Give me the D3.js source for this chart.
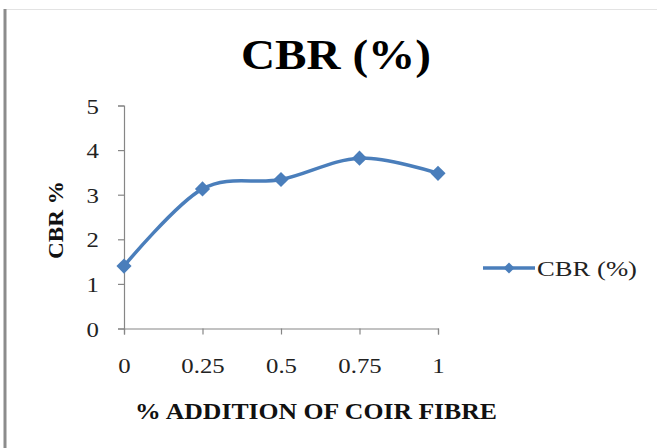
<!DOCTYPE html>
<html><head><meta charset="utf-8">
<script src="https://cdn.jsdelivr.net/npm/d3@7"></script>
<style>html,body{margin:0;padding:0;background:#fff;}svg{display:block;}</style>
</head><body>
<script>
const categories = [0, 0.25, 0.5, 0.75, 1];
const tickLabels = ["0", "0.25", "0.5", "0.75", "1"];
const cbrValues = [1.4, 3.13, 3.34, 3.82, 3.48];
const yTicks = [0, 1, 2, 3, 4, 5];
const seriesName = "CBR (%)";

const W = 657, H = 448;
const svg = d3.select("body").append("svg").attr("width", W).attr("height", H);
svg.append("rect").attr("width", W).attr("height", H).attr("fill", "#fff");

// frame lines
svg.append("line").attr("x1", 5).attr("x2", W).attr("y1", 9.5).attr("y2", 9.5)
  .attr("stroke", "#e3e3e3").attr("stroke-width", 1);
svg.append("line").attr("x1", 5).attr("x2", 5).attr("y1", 9).attr("y2", H)
  .attr("stroke", "#8c8c8c").attr("stroke-width", 3);

const x = d3.scaleLinear().domain([0, 1]).range([124, 438]);
const y = d3.scaleLinear().domain([0, 5]).range([328.5, 105.5]);
const serif = "'Liberation Serif','Times New Roman',serif";
const axisColor = "#868686";
const sx = 1.18;

// y axis
const yAxis = svg.append("g").attr("transform", "translate(124,0)")
  .call(d3.axisLeft(y).tickValues(yTicks).tickSize(6).tickPadding(0).tickFormat(d3.format("d")));
// x axis
const xAxis = svg.append("g").attr("transform", "translate(0,328.5)")
  .call(d3.axisBottom(x).tickValues(categories).tickSize(6).tickPadding(0)
    .tickFormat((d, i) => tickLabels[i]));
[yAxis, xAxis].forEach(g => {
  g.select(".domain").attr("stroke", axisColor).attr("stroke-width", 1.2);
  g.selectAll(".tick line").attr("stroke", axisColor).attr("stroke-width", 1.2);
  g.selectAll("text").attr("font-family", serif).attr("font-size", 21).attr("fill", "#222");
});
yAxis.selectAll(".tick text").attr("x", 0).attr("dy", "0.36em")
  .attr("transform", `translate(-25,0) scale(${sx},1)`);
xAxis.selectAll(".tick text").attr("y", 0).attr("dy", 0)
  .attr("transform", `translate(0,44) scale(${sx},1)`);

// line
const pts = categories.map((c, i) => [x(c), y(cbrValues[i])]);
const line = d3.line().curve(d3.curveCardinal.tension(0));
svg.append("path").attr("d", line(pts)).attr("fill", "none")
  .attr("stroke", "#4a7ebb").attr("stroke-width", 3.5).attr("stroke-linejoin", "round");
const sq = d3.symbol().type(d3.symbolSquare);
svg.selectAll(".mk").data(pts).enter().append("path")
  .attr("d", sq.size(115)())
  .attr("transform", d => `translate(${d[0]},${d[1]}) rotate(45)`)
  .attr("fill", "#4a7ebb");

// title
svg.append("text").attr("x", 336).attr("y", 69).attr("text-anchor", "middle")
  .attr("font-family", serif).attr("font-weight", "bold").attr("font-size", 43)
  .attr("textLength", 190).attr("lengthAdjust", "spacingAndGlyphs")
  .attr("fill", "#000").text("CBR (%)");
// axis titles
svg.append("text").attr("transform", "translate(63,220) rotate(-90)").attr("text-anchor", "middle")
  .attr("font-family", serif).attr("font-weight", "bold").attr("font-size", 22)
  .attr("textLength", 78).attr("lengthAdjust", "spacingAndGlyphs")
  .attr("fill", "#111").text("CBR %");
svg.append("text").attr("x", 316).attr("y", 419).attr("text-anchor", "middle")
  .attr("font-family", serif).attr("font-weight", "bold").attr("font-size", 23)
  .attr("textLength", 362).attr("lengthAdjust", "spacingAndGlyphs")
  .attr("fill", "#111").text("% ADDITION OF COIR FIBRE");

// legend
svg.append("line").attr("x1", 483).attr("x2", 535).attr("y1", 268).attr("y2", 268)
  .attr("stroke", "#4a7ebb").attr("stroke-width", 3.5);
svg.append("path").attr("d", sq.size(60)()).attr("transform", "translate(509,268) rotate(45)")
  .attr("fill", "#4a7ebb");
svg.append("text").attr("x", 537).attr("y", 276).attr("font-family", serif)
  .attr("font-size", 22).attr("textLength", 100).attr("lengthAdjust", "spacingAndGlyphs")
  .attr("fill", "#222").text(seriesName);
</script>
</body></html>
